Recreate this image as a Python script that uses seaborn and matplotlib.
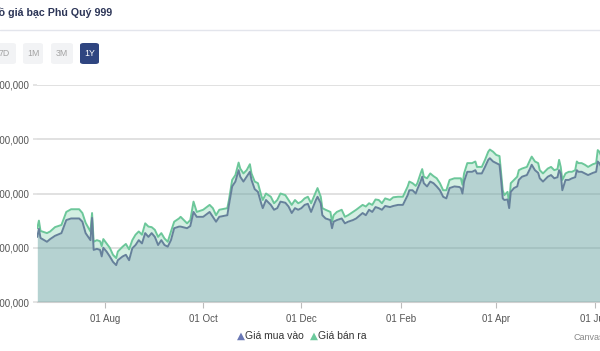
import pandas as pd
import matplotlib.pyplot as plt
import matplotlib.dates as mdates
from matplotlib.patches import FancyBboxPatch
import seaborn as sns

# Du lieu doc tu bieu do (nghin dong)
ngay = [
    "2024-06-20", "2024-06-21", "2024-06-22", "2024-06-26", "2024-06-28",
    "2024-07-01", "2024-07-05", "2024-07-08", "2024-07-11", "2024-07-16", "2024-07-18", "2024-07-20",
    "2024-07-23", "2024-07-24", "2024-07-25", "2024-07-27", "2024-07-29", "2024-07-30", "2024-07-31",
    "2024-08-02", "2024-08-04", "2024-08-06", "2024-08-08", "2024-08-09", "2024-08-12", "2024-08-14",
    "2024-08-16", "2024-08-18", "2024-08-20", "2024-08-22", "2024-08-24", "2024-08-26", "2024-08-28", "2024-08-30",
    "2024-09-01", "2024-09-03", "2024-09-05", "2024-09-07", "2024-09-09", "2024-09-11", "2024-09-13",
    "2024-09-16", "2024-09-17", "2024-09-21", "2024-09-23", "2024-09-25", "2024-09-27",
    "2024-10-01", "2024-10-05", "2024-10-07", "2024-10-09", "2024-10-11", "2024-10-16", "2024-10-17",
    "2024-10-19", "2024-10-21", "2024-10-23", "2024-10-24", "2024-10-26", "2024-10-28", "2024-10-30", "2024-10-31",
    "2024-11-02", "2024-11-04", "2024-11-06", "2024-11-07", "2024-11-09", "2024-11-12", "2024-11-14",
    "2024-11-16", "2024-11-18", "2024-11-21", "2024-11-23", "2024-11-25", "2024-11-27", "2024-11-29",
    "2024-12-01", "2024-12-03", "2024-12-05", "2024-12-07", "2024-12-10", "2024-12-11", "2024-12-13", "2024-12-14",
    "2024-12-16", "2024-12-19", "2024-12-20", "2024-12-21", "2024-12-23", "2024-12-26", "2024-12-28", "2024-12-30",
    "2025-01-02", "2025-01-04", "2025-01-08", "2025-01-10", "2025-01-12", "2025-01-14", "2025-01-16",
    "2025-01-18", "2025-01-20", "2025-01-22", "2025-01-25", "2025-01-27", "2025-01-30",
    "2025-02-02", "2025-02-05", "2025-02-06", "2025-02-08", "2025-02-10", "2025-02-11", "2025-02-13", "2025-02-14",
    "2025-02-15", "2025-02-17", "2025-02-19", "2025-02-21", "2025-02-23", "2025-02-25", "2025-02-27",
    "2025-03-01", "2025-03-03", "2025-03-06", "2025-03-09", "2025-03-10", "2025-03-11", "2025-03-12", "2025-03-14",
    "2025-03-17", "2025-03-19", "2025-03-20", "2025-03-23", "2025-03-25", "2025-03-27", "2025-03-28", "2025-03-30",
    "2025-04-01", "2025-04-03", "2025-04-04", "2025-04-05", "2025-04-06", "2025-04-08", "2025-04-09", "2025-04-10",
    "2025-04-12", "2025-04-14", "2025-04-15", "2025-04-17", "2025-04-20", "2025-04-22", "2025-04-23", "2025-04-25",
    "2025-04-27", "2025-04-28", "2025-04-30",
    "2025-05-03", "2025-05-05", "2025-05-07", "2025-05-09", "2025-05-10", "2025-05-11", "2025-05-12", "2025-05-14",
    "2025-05-16", "2025-05-18", "2025-05-20", "2025-05-21", "2025-05-22", "2025-05-24", "2025-05-26", "2025-05-28",
    "2025-05-31",
    "2025-06-02", "2025-06-03", "2025-06-04", "2025-06-05",
]

gia_mua = [
    1120, 1135, 1118, 1111, 1116,
    1122, 1127, 1151, 1154, 1154, 1148, 1127,
    1114, 1155, 1096, 1098, 1096, 1084, 1100,
    1093, 1084, 1074, 1068, 1077, 1084, 1087,
    1077, 1099, 1105, 1114, 1108, 1127, 1120, 1127,
    1120, 1105, 1114, 1105, 1102, 1114, 1136,
    1139, 1139, 1136, 1140, 1166, 1157,
    1157, 1166, 1157, 1148, 1157, 1160, 1179,
    1213, 1222, 1243, 1231, 1222, 1231, 1240, 1225,
    1208, 1203, 1182, 1173, 1188, 1179, 1170,
    1173, 1185, 1183, 1176, 1164, 1173, 1170,
    1173, 1179, 1181, 1166, 1188, 1194, 1182, 1160,
    1154, 1151, 1136, 1148, 1151, 1154, 1145, 1148,
    1151, 1154, 1164, 1160, 1170, 1166, 1175,
    1173, 1170, 1177, 1175, 1177, 1179,
    1179, 1197, 1206, 1206, 1200, 1208, 1222, 1231,
    1219, 1213, 1222, 1219, 1213, 1206, 1194,
    1191, 1210, 1213, 1212, 1210, 1200, 1222, 1240,
    1240, 1243, 1237, 1237, 1249, 1262, 1265, 1259,
    1256, 1253, 1225, 1191, 1188, 1189, 1173, 1203,
    1210, 1213, 1225, 1231, 1234, 1246, 1253, 1243,
    1238, 1228, 1222,
    1231, 1234, 1228, 1230, 1243, 1237, 1206, 1225,
    1225, 1228, 1230, 1243, 1240, 1240, 1237, 1234,
    1238,
    1240, 1259, 1256, 1250,
]

gia_ban = [
    1136, 1150, 1131, 1127, 1130,
    1138, 1142, 1166, 1171, 1171, 1164, 1146,
    1130, 1164, 1111, 1114, 1112, 1103, 1116,
    1108, 1100, 1087, 1081, 1093, 1102, 1107,
    1097, 1114, 1124, 1130, 1124, 1145, 1139, 1138,
    1133, 1120, 1127, 1117, 1111, 1130, 1148,
    1154, 1157, 1145, 1151, 1185, 1166,
    1170, 1179, 1173, 1160, 1170, 1173, 1188,
    1225, 1234, 1257, 1246, 1237, 1243, 1254, 1237,
    1222, 1219, 1197, 1188, 1200, 1194, 1182,
    1188, 1200, 1197, 1188, 1179, 1188, 1182,
    1185, 1191, 1194, 1182, 1203, 1210, 1194, 1173,
    1170, 1166, 1148, 1160, 1166, 1170, 1157, 1160,
    1166, 1170, 1179, 1176, 1182, 1179, 1189,
    1188, 1182, 1191, 1188, 1193, 1194,
    1194, 1213, 1222, 1219, 1214, 1219, 1237, 1245,
    1231, 1228, 1237, 1232, 1228, 1219, 1206,
    1206, 1225, 1228, 1228, 1228, 1216, 1237, 1256,
    1256, 1259, 1249, 1249, 1262, 1277, 1281, 1277,
    1271, 1269, 1237, 1206, 1197, 1203, 1182, 1219,
    1225, 1231, 1243, 1246, 1249, 1262, 1268, 1259,
    1256, 1243, 1237,
    1246, 1249, 1243, 1245, 1262, 1249, 1225, 1237,
    1240, 1240, 1243, 1259, 1256, 1256, 1253, 1249,
    1254,
    1256, 1280, 1277, 1270,
]

y_ticks = [1000000, 1100000, 1200000, 1300000, 1400000]
x_ticks = ["2024-08-01", "2024-10-01", "2024-12-01", "2025-02-01", "2025-04-01", "2025-06-01"]

df = pd.DataFrame({
    "Ngay": pd.to_datetime(ngay),
    "Mua": [v * 1000 for v in gia_mua],
    "Ban": [v * 1000 for v in gia_ban],
})

sns.set_style("white")
plt.rcParams["font.family"] = ["Liberation Sans", "DejaVu Sans"]

W, H = 600, 351
fig = plt.figure(figsize=(6, 3.51), dpi=100)

# truc: trai 37px, day 302px, dinh 85px; ben phai bi cat nhu anh goc
ax = fig.add_axes([37.3 / W, 49 / H, 583 / W, 217 / H])

duoi = y_ticks[0]
ax.fill_between(df["Ngay"], duoi, df["Mua"], color="#6da7a5", alpha=0.5, lw=0, zorder=2)
ax.fill_between(df["Ngay"], df["Mua"], df["Ban"], color="#a9e1c7", alpha=0.5, lw=0, zorder=2)
sns.lineplot(data=df, x="Ngay", y="Ban", ax=ax, color="#6cc79a", lw=1.4, zorder=3)
sns.lineplot(data=df, x="Ngay", y="Mua", ax=ax, color="#66819b", lw=1.4, zorder=3)

ax.set_xlim(pd.Timestamp("2024-06-20"), pd.Timestamp("2025-06-17"))
ax.set_ylim(y_ticks[0], y_ticks[-1])
ax.set_yticks(y_ticks)
ax.set_yticklabels([f"{v:,}" for v in y_ticks])
ax.set_xticks(pd.to_datetime(x_ticks))
ax.xaxis.set_major_formatter(mdates.DateFormatter("%d %b"))
ax.set_xlabel("")
ax.set_ylabel("")

ax.grid(axis="y", color="#d8d8d8", lw=1.1)
ax.grid(axis="x", visible=False)
ax.set_axisbelow(True)
for s in ["top", "right", "left"]:
    ax.spines[s].set_visible(False)
ax.spines["bottom"].set_color("#d0d0d0")
ax.tick_params(axis="y", length=3, width=1.1, color="#dcdcdc", pad=3, labelsize=7, labelcolor="#555555")
ax.tick_params(axis="x", length=4, width=0.8, color="#bbbbbb", pad=5, labelsize=7, labelcolor="#555555")
ax.tick_params(left=True, bottom=True)

# tieu de (bi cat ben trai)
fig.text(112 / W, 1 - 12 / H, "Biểu đồ giá bạc Phú Quý 999", ha="right", va="center",
         fontsize=7.7, fontweight="bold", color="#2c3557")
fig.add_artist(plt.Line2D([0, 1], [1 - 30 / H, 1 - 30 / H], color="#e3e5ec", lw=1))

# nut chon khoang thoi gian
nut = [("7D", -8, 16), ("1M", 23, 43), ("3M", 51, 73), ("1Y", 80, 99)]
for nhan, x0, x1 in nut:
    active = nhan == "1Y"
    box = FancyBboxPatch((x0 / W, 1 - 64 / H), (x1 - x0) / W, 21 / H,
                         boxstyle="round,pad=0,rounding_size=0.006", transform=fig.transFigure,
                         facecolor="#2f4580" if active else "#f2f3f5", edgecolor="none")
    fig.add_artist(box)
    fig.text((x0 + x1) / 2 / W, 1 - 53.5 / H, nhan, ha="center", va="center", fontsize=6.3,
             color="white" if active else "#a3a3a3")

# chu giai
fig.text(237 / W, 1 - 336 / H, "▲", color="#6a78b5", fontsize=7.5, ha="left", va="center",
         family=["DejaVu Sans"])
fig.text(245 / W, 1 - 336 / H, "Giá mua vào", color="#333333", fontsize=7.5, ha="left", va="center")
fig.text(310 / W, 1 - 336 / H, "▲", color="#6cc99c", fontsize=7.5, ha="left", va="center",
         family=["DejaVu Sans"])
fig.text(318 / W, 1 - 336 / H, "Giá bán ra", color="#333333", fontsize=7.5, ha="left", va="center")
fig.text(573 / W, 1 - 337 / H, "CanvasJS.com", color="#888888", fontsize=6.5, ha="left", va="center")

fig.savefig("out.png", dpi=100)
